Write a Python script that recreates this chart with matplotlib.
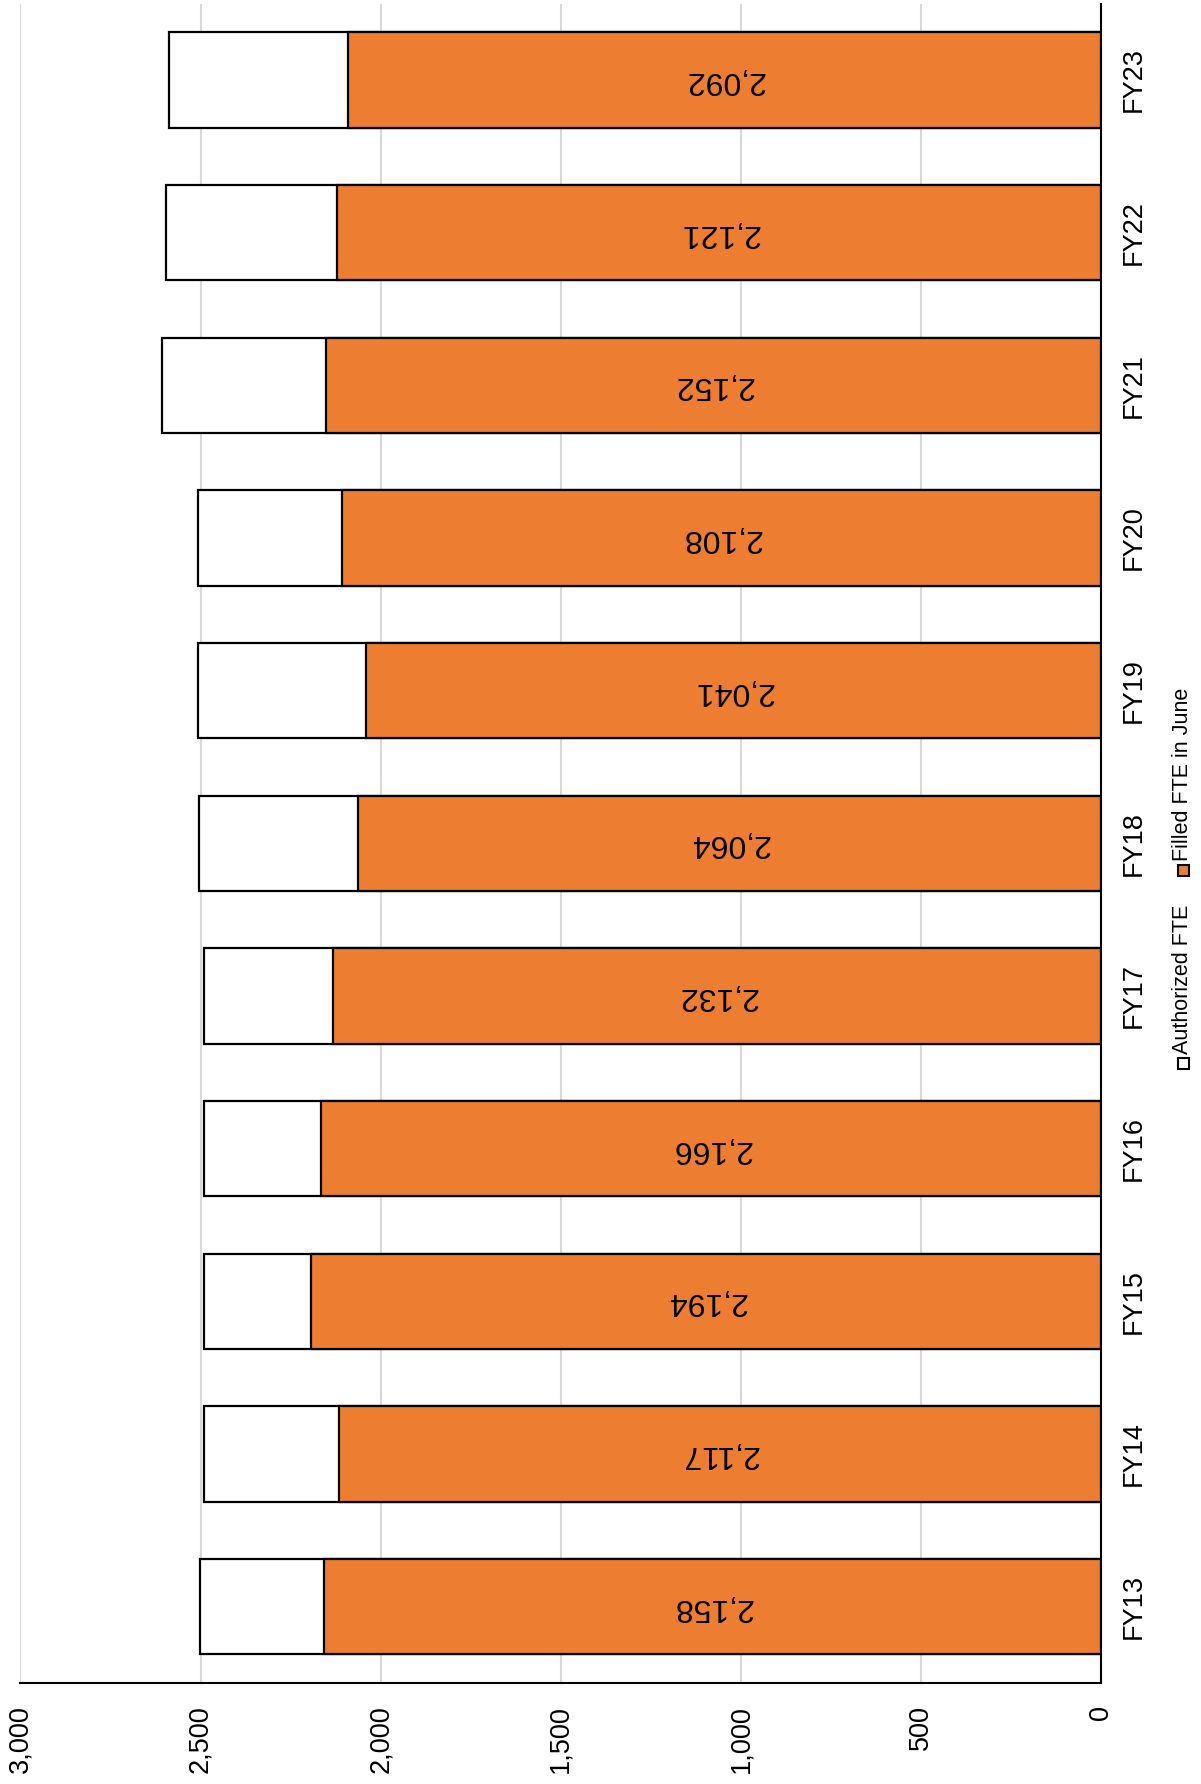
import matplotlib
matplotlib.use("Agg")
import matplotlib.pyplot as plt
from matplotlib.patches import Rectangle

plt.rcParams['font.family'] = ['Liberation Sans', 'DejaVu Sans']

categories = ["FY13", "FY14", "FY15", "FY16", "FY17", "FY18", "FY19", "FY20", "FY21", "FY22", "FY23"]
authorized = [2502, 2490, 2490, 2490, 2490, 2504, 2507, 2506, 2607, 2597, 2587]
filled = [2158, 2117, 2194, 2166, 2132, 2064, 2041, 2108, 2152, 2121, 2092]
value_ticks = [0, 500, 1000, 1500, 2000, 2500, 3000]
value_tick_labels = ["0", "500", "1,000", "1,500", "2,000", "2,500", "3,000"]
legend_labels = ["Authorized FTE", "Filled FTE in June"]

ORANGE = "#ED7D31"

fig = plt.figure(figsize=(12.01, 17.84), dpi=100)
ax = fig.add_axes([0.017, 0.0566, 0.9, 0.9414])

ypos = list(range(len(categories)))
h = 0.625
ax.barh(ypos, authorized, height=h, color="white", edgecolor="black", linewidth=1.6, zorder=2)
ax.barh(ypos, filled, height=h, color=ORANGE, edgecolor="black", linewidth=1.6, zorder=3)

for y, v in zip(ypos, filled):
    ax.text(v / 2, y, f"{v:,}", rotation=180, ha="center", va="center",
            fontsize=23, color="black", zorder=4)

ax.set_xlim(3000, 0)
ax.set_ylim(-0.5, len(categories) - 0.5)
ax.set_xticks(value_ticks)
ax.set_xticklabels(value_tick_labels, rotation=90, fontsize=19.5)
ax.set_yticks(ypos)
ax.set_yticklabels(categories, rotation=90, fontsize=19.5, va="center")
ax.yaxis.tick_right()
ax.tick_params(axis="x", length=0, pad=16)
ax.tick_params(axis="y", length=0, pad=14)

ax.grid(axis="x", color="#D9D9D9", linewidth=1.5, zorder=0)
ax.set_axisbelow(True)
for s in ["left", "top"]:
    ax.spines[s].set_visible(False)
for s in ["right", "bottom"]:
    ax.spines[s].set_color("black")
    ax.spines[s].set_linewidth(1.5)
    ax.spines[s].set_zorder(5)

# Rotated legend (reads bottom to top)
W, H = 1201, 1784
def fx(px): return px / W
def fy(py): return 1 - py / H
msz = 11
legend_colors = ["white", ORANGE]
marker_y = [1063, 870]
for lab, col, my in zip(legend_labels, legend_colors, marker_y):
    fig.patches.append(Rectangle((fx(1183 - msz / 2), fy(my + msz / 2)), msz / W, msz / H,
                                 facecolor=col, edgecolor="black", linewidth=1.5,
                                 transform=fig.transFigure, figure=fig))
    fig.text(fx(1183), fy(my - 9), lab, rotation=90, ha="center", va="bottom",
             fontsize=15.5, color="black")

fig.savefig("out.png", dpi=100)
